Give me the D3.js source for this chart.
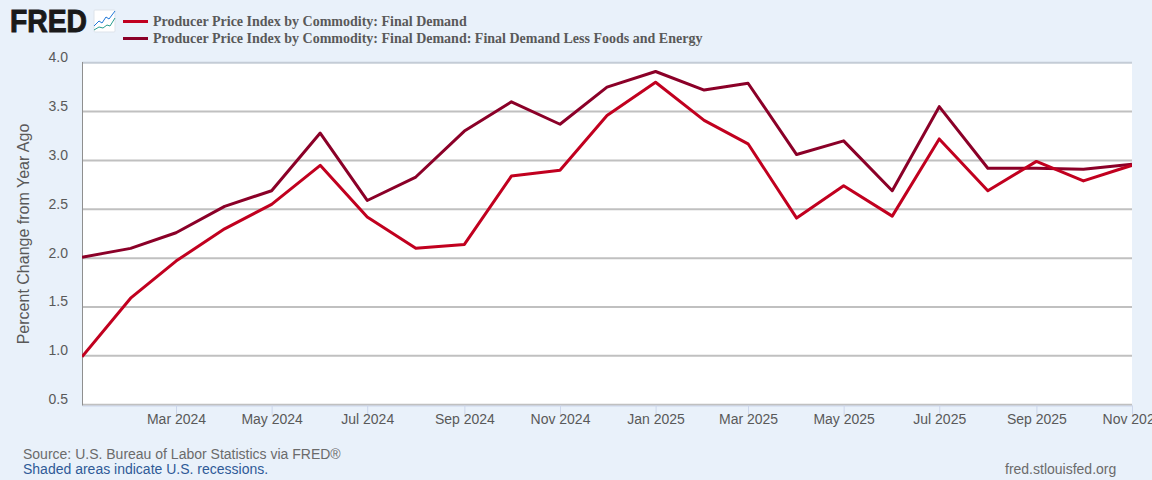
<!DOCTYPE html>
<html>
<head>
<meta charset="utf-8">
<script src="https://cdn.jsdelivr.net/npm/d3@7"></script>
<style>
  html, body { margin: 0; padding: 0; background: #e9f1fa; overflow: hidden; }
  text { font-family: "Liberation Sans", Arial, sans-serif; fill: #595959; }
</style>
</head>
<body>
<div id="chart"></div>
<script>
const months = ["2024-01","2024-02","2024-03","2024-04","2024-05","2024-06","2024-07","2024-08","2024-09","2024-10","2024-11","2024-12",
  "2025-01","2025-02","2025-03","2025-04","2025-05","2025-06","2025-07","2025-08","2025-09","2025-10","2025-11"];
const finalDemand = [0.99,1.59,1.97,2.30,2.55,2.95,2.42,2.10,2.14,2.84,2.90,3.46,3.80,3.41,3.17,2.41,2.74,2.43,3.22,2.69,2.99,2.79,2.95];
const lessFoodsEnergy = [2.01,2.10,2.26,2.53,2.69,3.28,2.59,2.83,3.30,3.60,3.37,3.75,3.91,3.72,3.79,3.06,3.20,2.69,3.55,2.92,2.92,2.91,2.96];
const yTicks = [0.5,1.0,1.5,2.0,2.5,3.0,3.5,4.0];
const xTicks = ["2024-03","2024-05","2024-07","2024-09","2024-11","2025-01","2025-03","2025-05","2025-07","2025-09","2025-11"];
const legendLabels = ["Producer Price Index by Commodity: Final Demand",
  "Producer Price Index by Commodity: Final Demand: Final Demand Less Foods and Energy"];
const colors = ["#c1001f", "#8b0028"];

const width = 1152, height = 480;
const parse = d3.timeParse("%Y-%m");
const dates = months.map(parse);

const svg = d3.select("#chart").append("svg").attr("width", width).attr("height", height).style("display", "block");

const x = d3.scaleTime().domain([dates[0], dates[dates.length - 1]]).range([82, 1132]);
const y = d3.scaleLinear().domain([0.5, 4.0]).range([404.7, 62.7]);

svg.append("rect").attr("x", 82).attr("y", 62.5).attr("width", 1050).attr("height", 342.2).attr("fill", "#fff");

// horizontal grid
svg.append("g").selectAll("line").data(yTicks).join("line")
  .attr("x1", 82).attr("x2", 1132)
  .attr("y1", d => y(d)).attr("y2", d => y(d))
  .attr("stroke", d => d === 4.0 ? "#c4ccd6" : "#c0c0c0").attr("stroke-width", 2);

// left axis line
svg.append("line").attr("x1", 82.5).attr("x2", 82.5).attr("y1", 62).attr("y2", 405.5)
  .attr("stroke", "#8f8f8f").attr("stroke-width", 1);

// y labels
svg.append("g").selectAll("text").data(yTicks).join("text")
  .attr("x", 68).attr("y", d => y(d) - 0.5)
  .attr("text-anchor", "end").attr("font-size", 14)
  .text(d => d.toFixed(1));

svg.append("text")
  .attr("transform", "translate(29,234) rotate(-90)")
  .attr("text-anchor", "middle").attr("font-size", 16)
  .text("Percent Change from Year Ago");

// x axis
const xAxis = d3.axisBottom(x)
  .tickValues(xTicks.map(parse))
  .tickFormat(d3.timeFormat("%b %Y"))
  .tickSize(10).tickSizeOuter(0);
const gx = svg.append("g").attr("transform", "translate(0,405.5)").call(xAxis);
gx.select(".domain").attr("stroke", "#ccd6eb");
gx.selectAll(".tick line").attr("stroke", "#ccd6eb");
gx.selectAll(".tick text").attr("y", 9).attr("dy", "0.71em").attr("font-size", 14).attr("font-family", "Liberation Sans").style("fill", "#595959");

// series lines, first series on top
const line = d3.line().x((d, i) => x(dates[i])).y(d => y(d));
svg.append("clipPath").attr("id", "plot").append("rect")
  .attr("x", 82).attr("y", 56).attr("width", 1050).attr("height", 350);
[[lessFoodsEnergy, colors[1]], [finalDemand, colors[0]]].forEach(([s, c]) => {
  svg.append("path").datum(s)
    .attr("d", line).attr("fill", "none")
    .attr("stroke", c).attr("stroke-width", 3)
    .attr("stroke-linejoin", "round").attr("clip-path", "url(#plot)");
});

// legend
legendLabels.forEach((t, i) => {
  const ly = 21.5 + i * 17;
  svg.append("line").attr("x1", 123).attr("x2", 148).attr("y1", ly).attr("y2", ly)
    .attr("stroke", colors[i]).attr("stroke-width", 3);
  svg.append("text").attr("x", 153).attr("y", ly + 4)
    .attr("font-size", 14).attr("font-weight", "bold")
    .style("font-family", '"Liberation Serif", serif')
    .text(t);
});

// logo
svg.append("text").attr("x", 10).attr("y", 32).attr("font-size", 31).attr("font-weight", "bold")
  .attr("textLength", 77).attr("lengthAdjust", "spacingAndGlyphs")
  .attr("stroke", "#1a1a1a").attr("stroke-width", 1)
  .style("fill", "#1a1a1a").text("FRED");
svg.append("rect").attr("x", 94).attr("y", 10).attr("width", 21).attr("height", 22).attr("rx", 1).attr("fill", "#fff").attr("stroke", "#dde3ea");
svg.append("polyline").attr("points", "94,26 99,21 102,23 106,17 109,19 115,11").attr("fill", "none").attr("stroke", "#1f77d8").attr("stroke-width", 1);
svg.append("polyline").attr("points", "94,30 99,27 103,28 107,25 110,26 115,18").attr("fill", "none").attr("stroke", "#2a9d8f").attr("stroke-width", 1);

// footer
svg.append("text").attr("x", 23).attr("y", 459).attr("font-size", 14).style("fill", "#6b6b6b").text("Source: U.S. Bureau of Labor Statistics via FRED\u00AE");
svg.append("text").attr("x", 23).attr("y", 474).attr("font-size", 14).style("fill", "#2f5a97").text("Shaded areas indicate U.S. recessions.");
svg.append("text").attr("x", 1005).attr("y", 474).attr("font-size", 14).style("fill", "#6b6b6b").text("fred.stlouisfed.org");
</script>
</body>
</html>
